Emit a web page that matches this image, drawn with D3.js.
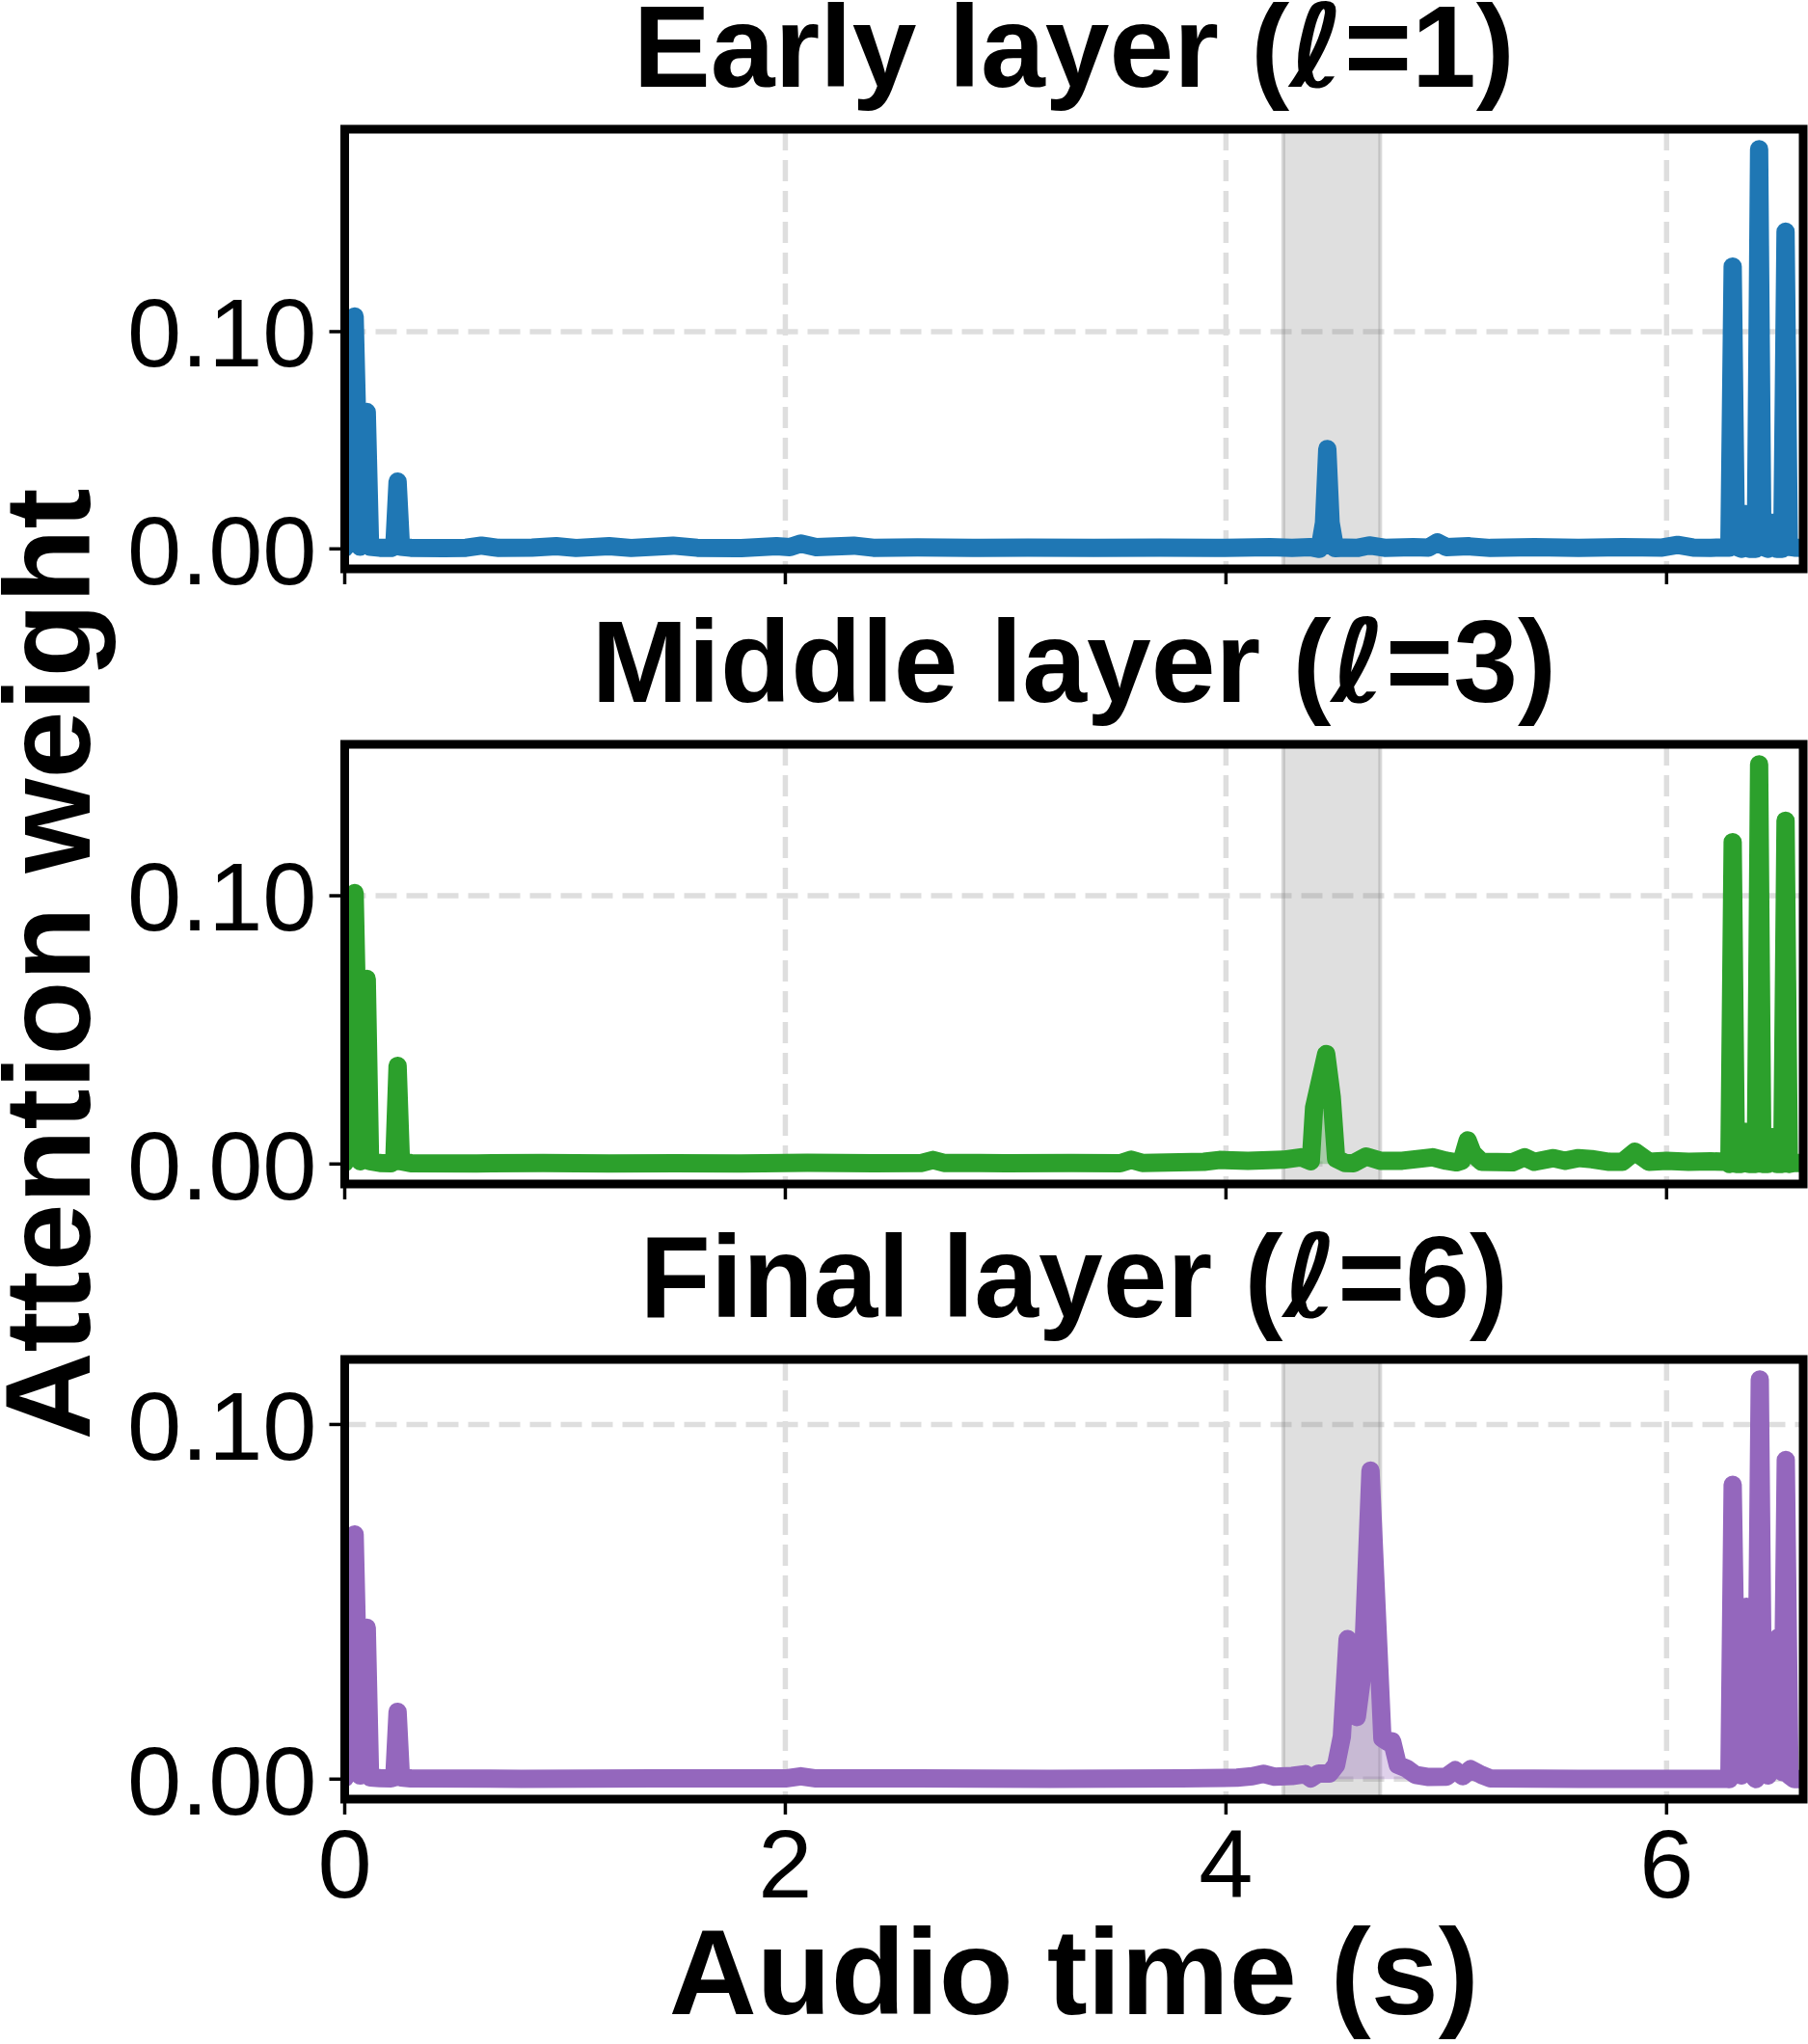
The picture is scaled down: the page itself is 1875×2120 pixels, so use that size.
<!DOCTYPE html>
<html>
<head>
<meta charset="utf-8">
<script src="https://cdn.jsdelivr.net/npm/d3@7/dist/d3.min.js"></script>
<style>
    html, body { margin: 0; padding: 0; background: #fff; }
    svg { display: block; }
</style>
</head>
<body>
<div id="chart"></div>
<script>
const xTicks = [0, 2, 4, 6]
const yTicks = [0, 0.1]
const timeRange = [0, 6.62]
const wordSpan = [4.26, 4.70]

const layerNames = ['Early layer', 'Middle layer', 'Final layer']
const layerIndex = [1, 3, 6]
const layerColors = ['#1f77b4', '#2ca02c', '#9467bd']

// [time (s), attention weight]
const earlyLayer = [
    [0.00, 0.0005], [0.02, 0.004], [0.045, 0.107], [0.07, 0.001], [0.08, 0.002], [0.10, 0.063],
    [0.115, 0.001], [0.16, 0.0005], [0.21, 0.0004], [0.225, 0.001], [0.24, 0.031], [0.255, 0.001],
    [0.30, 0.0005], [0.45, 0.0003], [0.55, 0.0005], [0.62, 0.0015], [0.70, 0.0004], [0.85, 0.0006],
    [0.96, 0.0012], [1.05, 0.0004], [1.20, 0.0012], [1.30, 0.0004], [1.49, 0.0015], [1.60, 0.0005],
    [1.80, 0.0003], [1.96, 0.0012], [2.02, 0.0008], [2.07, 0.0025], [2.14, 0.0008], [2.31, 0.0015],
    [2.40, 0.0005], [2.60, 0.0007], [2.85, 0.0004], [3.10, 0.0006], [3.40, 0.0004], [3.70, 0.0006],
    [3.95, 0.0004], [4.20, 0.0008], [4.30, 0.0005], [4.38, 0.0008], [4.425, 0.0], [4.445, 0.012],
    [4.46, 0.046], [4.475, 0.012], [4.495, 0.0003], [4.54, 0.0006], [4.60, 0.0005], [4.65, 0.0016],
    [4.72, 0.0005], [4.85, 0.0008], [4.92, 0.0006], [4.96, 0.003], [5.00, 0.0008], [5.10, 0.0012],
    [5.20, 0.0004], [5.40, 0.0008], [5.60, 0.0005], [5.80, 0.0008], [5.98, 0.0006], [6.05, 0.0018],
    [6.12, 0.0006], [6.20, 0.0005], [6.285, 0.0006], [6.30, 0.130], [6.315, 0.001], [6.34, 0.0],
    [6.357, 0.016], [6.375, 0.0], [6.405, 0.0], [6.42, 0.184], [6.435, 0.001], [6.46, 0.0],
    [6.479, 0.012], [6.50, 0.0], [6.525, 0.0], [6.54, 0.146], [6.555, 0.001], [6.58, 0.0006],
    [6.62, 0.0005]
]

const middleLayer = [
    [0.00, 0.0005], [0.02, 0.004], [0.045, 0.101], [0.07, 0.001], [0.08, 0.002], [0.10, 0.069],
    [0.115, 0.001], [0.16, 0.0004], [0.21, 0.0003], [0.225, 0.001], [0.24, 0.0366], [0.255, 0.001],
    [0.30, 0.0003], [0.60, 0.0002], [0.90, 0.0004], [1.20, 0.0002], [1.50, 0.0003], [1.80, 0.0002],
    [2.10, 0.0005], [2.40, 0.0003], [2.62, 0.0004], [2.67, 0.0015], [2.72, 0.0004], [3.00, 0.0003],
    [3.30, 0.0004], [3.52, 0.0003], [3.57, 0.0016], [3.62, 0.0004], [3.90, 0.0008], [3.97, 0.0015],
    [4.10, 0.0012], [4.26, 0.0016], [4.34, 0.0025], [4.385, 0.001], [4.40, 0.021], [4.455, 0.041],
    [4.48, 0.025], [4.50, 0.002], [4.54, 0.0004], [4.58, 0.0003], [4.637, 0.0028], [4.70, 0.0012],
    [4.80, 0.0012], [4.937, 0.0025], [5.00, 0.0012], [5.046, 0.0006], [5.07, 0.0012], [5.097, 0.0088],
    [5.12, 0.004], [5.16, 0.0008], [5.30, 0.0006], [5.356, 0.0025], [5.40, 0.0008], [5.487, 0.0022],
    [5.54, 0.0012], [5.60, 0.0022], [5.66, 0.0018], [5.74, 0.0008], [5.80, 0.0008], [5.856, 0.0046],
    [5.92, 0.0008], [6.00, 0.0012], [6.10, 0.0008], [6.20, 0.001], [6.27, 0.0008], [6.285, 0.0],
    [6.30, 0.120], [6.315, 0.0], [6.34, 0.0], [6.357, 0.012], [6.375, 0.0], [6.405, 0.0],
    [6.42, 0.149], [6.435, 0.0], [6.46, 0.0], [6.479, 0.010], [6.50, 0.0], [6.525, 0.0],
    [6.54, 0.128], [6.555, 0.0], [6.58, 0.0004], [6.62, 0.0004]
]

const finalLayer = [
    [0.00, 0.0003], [0.02, 0.003], [0.045, 0.069], [0.07, 0.001], [0.08, 0.002], [0.10, 0.0427],
    [0.115, 0.0005], [0.16, 0.0003], [0.21, 0.0002], [0.225, 0.0005], [0.24, 0.019], [0.255, 0.0005],
    [0.30, 0.0002], [0.80, 0.0001], [1.40, 0.0002], [2.00, 0.0002], [2.07, 0.0008], [2.14, 0.0002],
    [2.60, 0.0002], [3.20, 0.0001], [3.80, 0.0002], [4.05, 0.0004], [4.12, 0.0008], [4.17, 0.0015],
    [4.22, 0.0007], [4.30, 0.0009], [4.36, 0.0014], [4.385, 0.0002], [4.42, 0.0016], [4.47, 0.0016],
    [4.50, 0.004], [4.526, 0.012], [4.552, 0.0395], [4.575, 0.028], [4.594, 0.0175], [4.62, 0.03],
    [4.656, 0.087], [4.71, 0.0115], [4.735, 0.0105], [4.754, 0.0107], [4.78, 0.004], [4.82, 0.003],
    [4.86, 0.0012], [4.92, 0.0006], [5.00, 0.0007], [5.04, 0.0025], [5.075, 0.0008], [5.11, 0.0028],
    [5.16, 0.0012], [5.20, 0.0002], [5.60, 0.0001], [6.00, 0.0001], [6.27, 0.0001], [6.285, 0.0],
    [6.30, 0.083], [6.32, 0.004], [6.34, 0.001], [6.362, 0.0486], [6.38, 0.002], [6.405, 0.0],
    [6.423, 0.1127], [6.44, 0.002], [6.46, 0.001], [6.475, 0.038], [6.49, 0.01], [6.508, 0.040],
    [6.525, 0.002], [6.541, 0.090], [6.558, 0.001], [6.58, 0.0], [6.62, 0.0]
]

const layerSeries = [earlyLayer, middleLayer, finalLayer]

const chart = {
    layout: {
        width: 1875,
        height: 2120,
        left: 357.5,
        right: 1870,
        tops: [134, 772, 1410],
        panelHeight: 456
    },
    font: '"Liberation Sans", Arial, Helvetica, sans-serif',
    scale: {
        x: null
    },
    getValueScale(series, top) {
        const [lo, hi] = d3.extent(series, d => d[1])
        const pad = (hi - lo) * 0.05
        return d3.scaleLinear().domain([lo - pad, hi + pad]).range([top + this.layout.panelHeight, top])
    },
    draw(body) {
        this.scale.x = d3.scaleLinear().domain(timeRange).range([this.layout.left, this.layout.right])

        const svg = d3.select(body)
            .append('svg')
            .attr('width', this.layout.width)
            .attr('height', this.layout.height)
            .attr('viewBox', `0 0 ${this.layout.width} ${this.layout.height}`)
            .attr('xmlns', 'http://www.w3.org/2000/svg')
            .style('font-family', this.font)

        layerSeries.forEach((series, i) => this.drawPanel(svg, series, i))
        this.drawLabels(svg)
    },
    drawPanel(svg, series, i) {
        const x = this.scale.x
        const top = this.layout.tops[i]
        const bottom = top + this.layout.panelHeight
        const y = this.getValueScale(series, top)
        const color = layerColors[i]
        const g = svg.append('g')

        g.append('clipPath').attr('id', `clip${i}`)
            .append('rect')
            .attr('x', this.layout.left)
            .attr('y', top)
            .attr('width', this.layout.right - this.layout.left)
            .attr('height', this.layout.panelHeight)

        const plot = g.append('g').attr('clip-path', `url(#clip${i})`)

        // dashed grid
        plot.selectAll('.vgrid')
            .data(xTicks)
            .enter()
            .append('line')
            .attr('x1', d => x(d))
            .attr('x2', d => x(d))
            .attr('y1', top)
            .attr('y2', bottom)
            .attr('stroke', '#dedede')
            .attr('stroke-width', 5.5)
            .attr('stroke-dasharray', '22 10')
        plot.selectAll('.hgrid')
            .data(yTicks)
            .enter()
            .append('line')
            .attr('x1', this.layout.left)
            .attr('x2', this.layout.right)
            .attr('y1', d => y(d))
            .attr('y2', d => y(d))
            .attr('stroke', '#dedede')
            .attr('stroke-width', 5.5)
            .attr('stroke-dasharray', '22 10')

        // highlighted word span
        plot.append('rect')
            .attr('x', x(wordSpan[0]))
            .attr('y', top - 10)
            .attr('width', x(wordSpan[1]) - x(wordSpan[0]))
            .attr('height', this.layout.panelHeight + 20)
            .attr('fill', 'gray')
            .attr('fill-opacity', 0.25)
            .attr('stroke', 'gray')
            .attr('stroke-opacity', 0.3)
            .attr('stroke-width', 4)

        plot.append('path')
            .datum(series)
            .attr('d', d3.area().x(d => x(d[0])).y0(y(0)).y1(d => y(d[1])))
            .attr('fill', color)
            .attr('fill-opacity', 0.3)

        plot.append('path')
            .datum(series)
            .attr('d', d3.line().x(d => x(d[0])).y(d => y(d[1])))
            .attr('fill', 'none')
            .attr('stroke', color)
            .attr('stroke-width', 19)
            .attr('stroke-linejoin', 'round')
            .attr('stroke-linecap', 'round')

        // frame
        g.append('rect')
            .attr('x', this.layout.left)
            .attr('y', top)
            .attr('width', this.layout.right - this.layout.left)
            .attr('height', this.layout.panelHeight)
            .attr('fill', 'none')
            .attr('stroke', '#000')
            .attr('stroke-width', 9)

        // ticks
        g.selectAll('.ytick')
            .data(yTicks)
            .enter()
            .append('line')
            .attr('x1', this.layout.left - 16)
            .attr('x2', this.layout.left)
            .attr('y1', d => y(d))
            .attr('y2', d => y(d))
            .attr('stroke', '#000')
            .attr('stroke-width', 3.5)
        g.selectAll('.ylabel')
            .data(yTicks)
            .enter()
            .append('text')
            .attr('x', this.layout.left - 29)
            .attr('y', d => y(d))
            .attr('dy', '0.36em')
            .attr('text-anchor', 'end')
            .attr('font-size', 101)
            .text(d => d3.format('.2f')(d))
        g.selectAll('.xtick')
            .data(xTicks)
            .enter()
            .append('line')
            .attr('x1', d => x(d))
            .attr('x2', d => x(d))
            .attr('y1', bottom)
            .attr('y2', bottom + 16)
            .attr('stroke', '#000')
            .attr('stroke-width', 3.5)

        if (i === layerSeries.length - 1) {
            g.selectAll('.xlabel')
                .data(xTicks)
                .enter()
                .append('text')
                .attr('x', d => x(d))
                .attr('y', bottom + 102)
                .attr('text-anchor', 'middle')
                .attr('font-size', 101)
                .text(d => d)
        }

        const title = g.append('text')
            .attr('x', (this.layout.left + this.layout.right) / 2)
            .attr('y', top - 44)
            .attr('text-anchor', 'middle')
            .attr('font-size', 120)
            .attr('font-weight', 'bold')
        title.append('tspan').text(`${layerNames[i]} (`)
        title.append('tspan')
            .attr('font-family', '"DejaVu Sans"')
            .attr('font-style', 'italic')
            .text('\u2113')
        title.append('tspan').text(`=${layerIndex[i]})`)
    },
    drawLabels(svg) {
        const tops = this.layout.tops
        const midY = (tops[0] + tops[tops.length - 1] + this.layout.panelHeight) / 2

        svg.append('text')
            .attr('transform', `translate(93,${midY}) rotate(-90)`)
            .attr('text-anchor', 'middle')
            .attr('font-size', 126)
            .attr('font-weight', 'bold')
            .text('Attention weight')

        svg.append('text')
            .attr('x', (this.layout.left + this.layout.right) / 2)
            .attr('y', 2089)
            .attr('text-anchor', 'middle')
            .attr('font-size', 126)
            .attr('font-weight', 'bold')
            .text('Audio time (s)')
    }
}

chart.draw('#chart')
</script>
</body>
</html>
